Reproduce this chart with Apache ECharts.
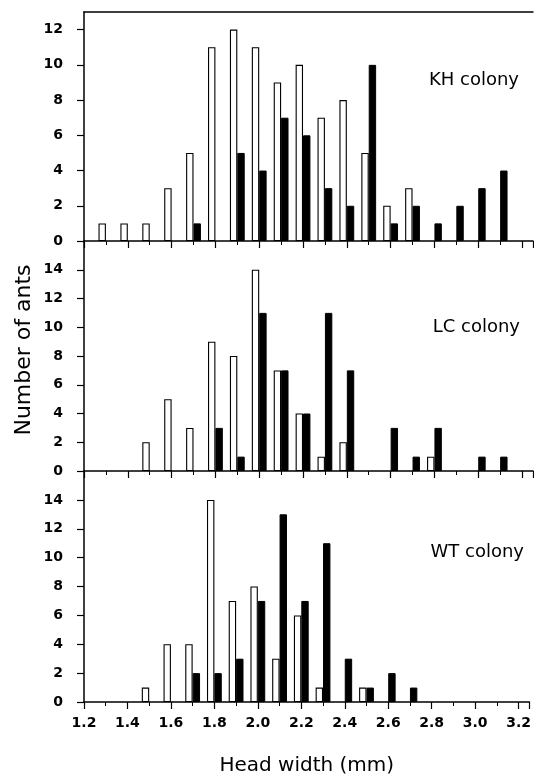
<!DOCTYPE html>
<html>
<head>
<meta charset="utf-8">
<script src="https://cdn.jsdelivr.net/npm/echarts@6/dist/echarts.min.js"></script>
<style>
html,body{margin:0;padding:0;background:#fff;}
#chart{width:534px;height:780px;}
</style>
</head>
<body>
<div id="chart"></div>
<script>
// Head width bins (mm)
var headWidthBins = [1.3,1.4,1.5,1.6,1.7,1.8,1.9,2.0,2.1,2.2,2.3,2.4,2.5,2.6,2.7,2.8,2.9,3.0,3.1];
// Counts per bin (null = no bar)
var khWhite = [1,1,1,3,5,11,12,11,9,10,7,8,5,2,3,null,null,null,null];
var khBlack = [null,null,null,null,1,null,5,4,7,6,3,2,10,1,2,1,2,3,4];
var lcWhite = [null,null,2,5,3,9,8,14,7,4,1,2,null,null,null,1,null,null,null];
var lcBlack = [null,null,null,null,null,3,1,11,7,4,11,7,null,3,1,3,null,1,1];
var wtWhite = [null,null,1,4,4,14,7,8,3,6,1,null,1,null,null,null,null,null,null];
var wtBlack = [null,null,null,null,2,2,3,7,13,7,11,3,1,2,1,null,null,null,null];
var panelNames = ['KH colony','LC colony','WT colony'];
var yMaxes = [13,16,16];
var xTickLabels = ['1.2','1.4','1.6','1.8','2.0','2.2','2.4','2.6','2.8','3.0','3.2'];

function pairs(vals){
  var out = [];
  for (var i=0;i<headWidthBins.length;i++){
    if (vals[i] !== null) out.push([headWidthBins[i], vals[i]]);
  }
  return out;
}

var FONT = 'DejaVu Sans';
var grids = [
  {left:84, top:12, width:449, height:229},
  {left:84, top:241, width:449, height:230},
  {left:84, top:471, width:449, height:231}
];

var xAxes = [], yAxes = [], series = [];
var panelData = [[khWhite,khBlack],[lcWhite,lcBlack],[wtWhite,wtBlack]];
for (var g=0; g<3; g++){
  xAxes.push({
    type:'value', gridIndex:g, min:1.2, max:3.25, interval:0.2,
    axisLine:{show:true, onZero:false, lineStyle:{color:'#000', width:1.5}},
    axisTick:{show:true, length:7, lineStyle:{color:'#000', width:1.2}},
    minorTick:{show:true, splitNumber:2, length:4, lineStyle:{color:'#000', width:1}},
    splitLine:{show:false},
    axisLabel:{show: g===2, showMaxLabel:false, color:'#000', fontFamily:FONT, fontWeight:'bold', fontSize:14, margin:14,
      formatter:function(v){ return v.toFixed(1); }},
    name: g===2 ? 'Head width (mm)' : '',
    nameLocation:'middle', nameGap:54,
    nameTextStyle:{color:'#000', fontFamily:FONT, fontSize:20}
  });
  yAxes.push({
    type:'value', gridIndex:g, min:0, max:yMaxes[g], interval:2,
    axisLine:{show:true, lineStyle:{color:'#000', width:1.5}},
    axisTick:{show:true, length:7, lineStyle:{color:'#000', width:1.2}},
    splitLine:{show:false},
    axisLabel:{showMaxLabel:false, color:'#000', fontFamily:FONT, fontWeight:'bold', fontSize:14, margin:21}
  });
  series.push({
    type:'bar', xAxisIndex:g, yAxisIndex:g, data:pairs(panelData[g][0]),
    barWidth:7.4, barGap:'0%',
    itemStyle:{color:'#fff', borderColor:'#000', borderWidth:1.1},
    animation:false
  });
  series.push({
    type:'bar', xAxisIndex:g, yAxisIndex:g, data:pairs(panelData[g][1]),
    barWidth:7.4, barGap:'0%',
    itemStyle:{color:'#000', borderColor:'#000', borderWidth:1},
    animation:false
  });
}
// top border of the first panel
xAxes.push({
  type:'value', gridIndex:0, position:'top', min:1.2, max:3.25,
  axisLine:{show:true, onZero:false, lineStyle:{color:'#000', width:1.5}},
  axisTick:{show:false}, axisLabel:{show:false}, splitLine:{show:false}
});

var chart = echarts.init(document.getElementById('chart'), null, {renderer:'canvas'});
chart.setOption({
  animation:false,
  backgroundColor:'#fff',
  grid:grids,
  xAxis:xAxes,
  yAxis:yAxes,
  series:series,
  graphic:[
    {type:'text', x:24, y:350, rotation:Math.PI/2,
      style:{text:'Number of ants', fill:'#000', font:'22px "DejaVu Sans"', align:'center', verticalAlign:'middle'}},
    {type:'text', x:519, y:80, style:{text:panelNames[0], fill:'#000', font:'18px "DejaVu Sans"', align:'right', verticalAlign:'middle'}},
    {type:'text', x:520, y:327, style:{text:panelNames[1], fill:'#000', font:'18px "DejaVu Sans"', align:'right', verticalAlign:'middle'}},
    {type:'text', x:524, y:552, style:{text:panelNames[2], fill:'#000', font:'18px "DejaVu Sans"', align:'right', verticalAlign:'middle'}}
  ]
});
</script>
</body>
</html>
